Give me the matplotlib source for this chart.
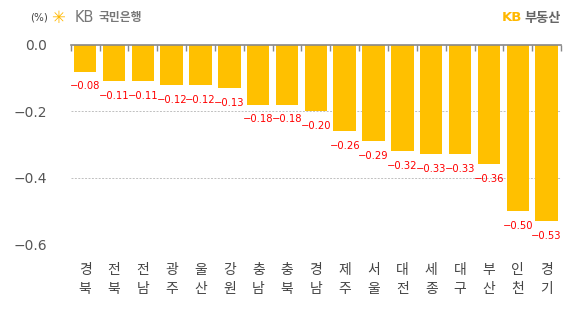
import numpy as np
import matplotlib.pyplot as plt

plt.rcParams['font.family'] = ['Noto Sans CJK KR', 'DejaVu Sans']

regions = ['경\n북', '전\n북', '전\n남', '광\n주', '울\n산', '강\n원', '충\n남', '충\n북', '경\n남',
           '제\n주', '서\n울', '대\n전', '세\n종', '대\n구', '부\n산', '인\n천', '경\n기']
changes = [-0.08, -0.11, -0.11, -0.12, -0.12, -0.13, -0.18, -0.18, -0.20,
           -0.26, -0.29, -0.32, -0.33, -0.33, -0.36, -0.50, -0.53]
yticks = [0.0, -0.2, -0.4, -0.6]

bar_color = '#FFC000'

fig = plt.figure(figsize=(5.85, 3.19), dpi=100)
ax = fig.add_axes([0.121, 0.235, 0.838, 0.624])

x = np.arange(len(regions))
ax.bar(x, changes, width=0.78, color=bar_color, zorder=3)

for xi, v in zip(x, changes):
    ax.annotate('\u2212%.2f' % abs(v), (xi, v), xytext=(0, -7), textcoords='offset points',
                ha='center', va='top', fontsize=7.2, color='#FF0000',
                family='DejaVu Sans')

ax.set_xlim(-0.5, len(regions) - 0.5)
ax.set_ylim(-0.6, 0)
ax.set_yticks(yticks)
ax.set_yticklabels(['%.1f' % t if t == 0 else '\u2212%.1f' % abs(t) for t in yticks],
                   family='DejaVu Sans', fontsize=10, color='#555555')
ax.tick_params(axis='y', length=0, pad=17)

for t in yticks[1:]:
    ax.axhline(t, color='#c0c0c0', lw=0.7, ls=(0, (2, 1.5)), zorder=1)

ax.set_xticks(x)
ax.set_xticklabels(regions, fontsize=10, color='#444444', linespacing=1.4)
ax.tick_params(axis='x', length=0, pad=14)
ax.set_xticks(np.arange(-0.5, len(regions)), minor=True)
ax.tick_params(axis='x', which='minor', top=True, bottom=False, direction='in',
               length=4, color='#888888', width=1)

for s in ['left', 'right', 'bottom']:
    ax.spines[s].set_visible(False)
ax.spines['top'].set_color('#888888')
ax.spines['top'].set_linewidth(1.2)
ax.spines['top'].set_zorder(4)

fig.text(0.052, 0.944, '(%)', fontsize=7.5, color='#444444', va='center', family='DejaVu Sans')
fig.text(0.088, 0.944, '\u2733', fontsize=12, color='#FFB800', va='center', family='DejaVu Sans')
fig.text(0.127, 0.944, 'KB', fontsize=10.5, color='#777777', va='center', family='DejaVu Sans')
fig.text(0.168, 0.944, '국민은행', fontsize=8.5, color='#777777', va='center', weight='bold')

fig.text(0.893, 0.944, 'KB', fontsize=9.5, color='#FFB800', va='center', ha='right',
         weight='bold', family='DejaVu Sans')
fig.text(0.896, 0.944, '부동산', fontsize=9.5, color='#666666', va='center', ha='left', weight='bold')

fig.savefig('out.png', dpi=100, facecolor='white')
